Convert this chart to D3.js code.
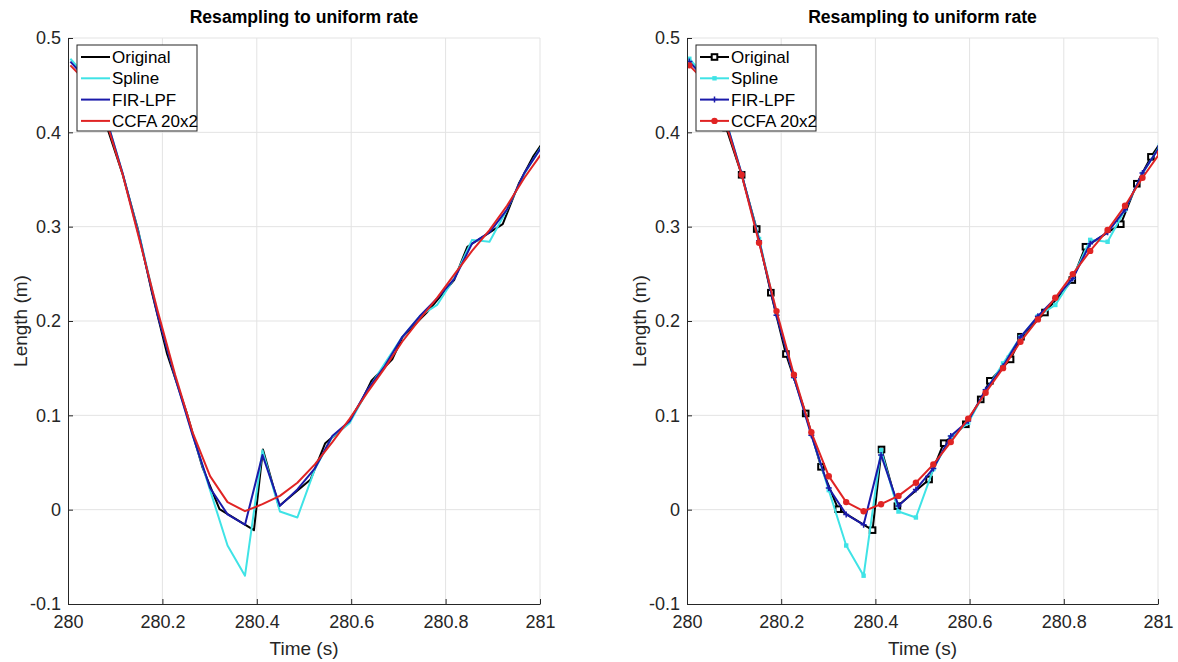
<!DOCTYPE html>
<html>
<head>
<meta charset="utf-8">
<script src="https://cdn.jsdelivr.net/npm/d3@7"></script>
<style>
  html, body { margin: 0; padding: 0; background: #fff; }
  svg { display: block; font-family: "Liberation Sans", Arial, sans-serif; }
</style>
</head>
<body>
<svg id="chart" width="1178" height="662"></svg>
<script>
// Original (irregularly sampled) signal
const origTime = [280.040, 280.083, 280.116, 280.148, 280.178, 280.210, 280.252, 280.2845,
  280.321, 280.394, 280.413, 280.4467, 280.514, 280.545, 280.592, 280.6236, 280.643,
  280.687, 280.709, 280.760, 280.818, 280.846, 280.921, 280.955, 280.985, 281.015];
const origValue = [0.455, 0.405, 0.355, 0.2975, 0.230, 0.165, 0.102, 0.0454,
  0.0005, -0.0217, 0.0638, 0.0037, 0.032, 0.0705, 0.0905, 0.1169, 0.1366,
  0.1593, 0.1833, 0.209, 0.2434, 0.2787, 0.3026, 0.3455, 0.3740, 0.396];

// Uniform-rate time base shared by the resampled series
const uniTime = [280.005, 280.042, 280.079, 280.116, 280.153, 280.190, 280.227, 280.264,
  280.301, 280.338, 280.375, 280.412, 280.449, 280.486, 280.523, 280.560, 280.597,
  280.634, 280.671, 280.708, 280.745, 280.782, 280.819, 280.856, 280.893, 280.930,
  280.967, 281.004];

const splineValue = [0.478, 0.457, 0.419, 0.356, 0.287, 0.208, 0.141, 0.080,
  0.0207, -0.038, -0.070, 0.063, -0.002, -0.0083, 0.043, 0.077, 0.092,
  0.126, 0.155, 0.183, 0.205, 0.217, 0.246, 0.286, 0.284, 0.318,
  0.356, 0.386];

const firValue = [0.475, 0.455, 0.418, 0.356, 0.285, 0.206, 0.140, 0.079,
  0.023, -0.005, -0.016, 0.058, 0.004, 0.0214, 0.0437, 0.078, 0.094,
  0.127, 0.152, 0.183, 0.205, 0.224, 0.245, 0.282, 0.294, 0.318,
  0.357, 0.385];

const ccfaValue = [0.471, 0.452, 0.415, 0.355, 0.283, 0.2105, 0.143, 0.082,
  0.0355, 0.008, -0.0016, 0.0058, 0.0146, 0.0286, 0.048, 0.0716, 0.0965,
  0.124, 0.150, 0.178, 0.2017, 0.2246, 0.2497, 0.2743, 0.2964, 0.3222,
  0.3519, 0.378];

const xTicks = [280, 280.2, 280.4, 280.6, 280.8, 281];
const xTickLabels = ["280", "280.2", "280.4", "280.6", "280.8", "281"];
const yTicks = [-0.1, 0, 0.1, 0.2, 0.3, 0.4, 0.5];
const yTickLabels = ["-0.1", "0", "0.1", "0.2", "0.3", "0.4", "0.5"];

const seriesNames = ["Original", "Spline", "FIR-LPF", "CCFA 20x2"];
const seriesColors = ["#000000", "#3fe3e6", "#1a1aaa", "#e02424"];
const titleText = "Resampling to uniform rate";
const xLabel = "Time (s)";
const yLabel = "Length (m)";

const series = [
  { name: seriesNames[0], t: origTime, v: origValue, color: seriesColors[0], marker: "square" },
  { name: seriesNames[1], t: uniTime, v: splineValue, color: seriesColors[1], marker: "smallsquare" },
  { name: seriesNames[2], t: uniTime, v: firValue, color: seriesColors[2], marker: "plus" },
  { name: seriesNames[3], t: uniTime, v: ccfaValue, color: seriesColors[3], marker: "dot" }
];

const svg = d3.select("#chart");
const plotTop = 38, plotBottom = 604;

function drawMarker(g, type, x, y, color) {
  if (type === "square") {
    g.append("rect").attr("x", x - 2.8).attr("y", y - 2.8).attr("width", 5.6).attr("height", 5.6)
      .attr("fill", "#fff").attr("stroke", color).attr("stroke-width", 2);
  } else if (type === "smallsquare") {
    g.append("rect").attr("x", x - 2.2).attr("y", y - 2.2).attr("width", 4.4).attr("height", 4.4)
      .attr("fill", color);
  } else if (type === "plus") {
    g.append("path").attr("d", `M${x - 3},${y}H${x + 3}M${x},${y - 3}V${y + 3}`)
      .attr("stroke", color).attr("stroke-width", 1.5).attr("fill", "none");
  } else if (type === "dot") {
    g.append("circle").attr("cx", x).attr("cy", y).attr("r", 3.2).attr("fill", color);
  }
}

function drawPanel(id, left, right, withMarkers) {
  const x = d3.scaleLinear().domain([280, 281]).range([left, right]);
  const y = d3.scaleLinear().domain([-0.1, 0.5]).range([plotBottom, plotTop]);
  const g = svg.append("g");

  // grid
  g.append("g").selectAll("line").data(xTicks.slice(1)).join("line")
    .attr("x1", d => x(d)).attr("x2", d => x(d)).attr("y1", plotTop).attr("y2", plotBottom)
    .attr("stroke", "#e3e3e3").attr("stroke-width", 1);
  g.append("g").selectAll("line").data(yTicks.slice(1)).join("line")
    .attr("x1", left).attr("x2", right).attr("y1", d => y(d)).attr("y2", d => y(d))
    .attr("stroke", "#e3e3e3").attr("stroke-width", 1);

  // data
  const clipId = "clip-" + id;
  svg.append("clipPath").attr("id", clipId).append("rect")
    .attr("x", left).attr("y", plotTop - 2).attr("width", right - left).attr("height", plotBottom - plotTop + 2);
  const plot = g.append("g").attr("clip-path", `url(#${clipId})`);
  const line = d3.line().x(d => x(d[0])).y(d => y(d[1]));
  series.forEach(s => {
    const pts = s.t.map((t, i) => [t, s.v[i]]);
    plot.append("path").attr("d", line(pts)).attr("fill", "none")
      .attr("stroke", s.color).attr("stroke-width", 2).attr("stroke-linejoin", "round");
    if (withMarkers) {
      pts.forEach(p => drawMarker(plot, s.marker, x(p[0]), y(p[1]), s.color));
    }
  });

  // axes (left and bottom only, ticks pointing inward)
  const xAxis = d3.axisBottom(x).tickValues(xTicks).tickFormat((d, i) => xTickLabels[i])
    .tickSizeInner(-5).tickSizeOuter(0).tickPadding(11);
  const yAxis = d3.axisLeft(y).tickValues(yTicks).tickFormat((d, i) => yTickLabels[i])
    .tickSizeInner(-5).tickSizeOuter(0).tickPadding(7);
  const gx = g.append("g").attr("transform", `translate(0,${plotBottom})`).call(xAxis);
  const gy = g.append("g").attr("transform", `translate(${left},0)`).call(yAxis);
  [gx, gy].forEach(a => {
    a.select(".domain").attr("stroke", "#262626").attr("stroke-width", 1);
    a.selectAll(".tick line").attr("stroke", "#262626");
    a.selectAll(".tick text").attr("fill", "#262626").style("font-size", "18px")
      .style("font-family", "'Liberation Sans', Arial, sans-serif");
  });
  gx.selectAll(".tick text").attr("dy", "0.71em");

  // title and labels
  g.append("text").attr("x", (left + right) / 2).attr("y", 23).attr("text-anchor", "middle")
    .attr("font-weight", "bold").attr("font-size", 17.6).attr("fill", "#000").text(titleText);
  g.append("text").attr("x", (left + right) / 2).attr("y", 655).attr("text-anchor", "middle")
    .attr("font-size", 19).attr("fill", "#262626").text(xLabel);
  g.append("text").attr("transform", `translate(${left - 41},${(plotTop + plotBottom) / 2}) rotate(-90)`)
    .attr("text-anchor", "middle").attr("font-size", 19).attr("fill", "#262626").text(yLabel);

  // legend
  const lx = left + 9, ly = 45, lw = 120, lh = 86;
  const lg = g.append("g");
  lg.append("rect").attr("x", lx).attr("y", ly).attr("width", lw).attr("height", lh)
    .attr("fill", "#fff").attr("stroke", "#262626").attr("stroke-width", 1);
  series.forEach((s, i) => {
    const yy = ly + 12 + i * 21.3;
    lg.append("line").attr("x1", lx + 4).attr("x2", lx + 33).attr("y1", yy).attr("y2", yy)
      .attr("stroke", s.color).attr("stroke-width", 2);
    if (withMarkers) drawMarker(lg, s.marker, lx + 18.5, yy, s.color);
    lg.append("text").attr("x", lx + 35).attr("y", yy).attr("dy", "0.35em")
      .attr("font-size", 17).attr("fill", "#000").text(s.name);
  });
}

drawPanel("a", 68, 540, false);
drawPanel("b", 687, 1158, true);
</script>
</body>
</html>
